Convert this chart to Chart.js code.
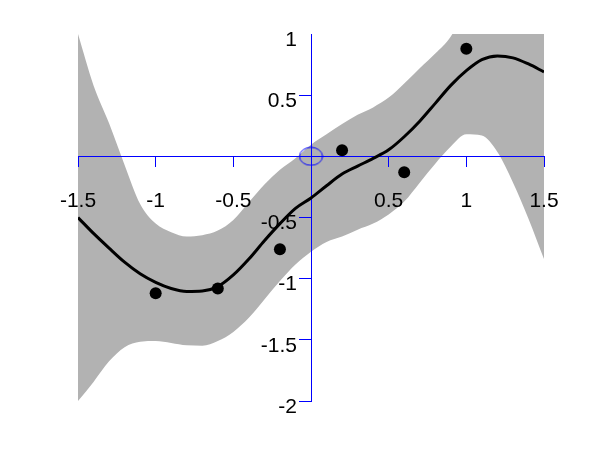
<!DOCTYPE html>
<html><head><meta charset="utf-8">
<script src="https://cdn.jsdelivr.net/npm/chart.js@4"></script>
<style>html,body{margin:0;padding:0;background:#fff}#wrap{width:600px;height:450px}</style>
</head><body><div id="wrap"><canvas id="c" width="600" height="450"></canvas></div>
<script>
const xValues = [-1.5,-1.4,-1.3,-1.2,-1.1,-1.0,-0.9,-0.8,-0.7,-0.6,-0.5,-0.4,-0.3,-0.2,-0.1,0,0.1,0.2,0.3,0.4,0.5,0.6,0.7,0.8,0.9,1.0,1.1,1.2,1.3,1.4,1.5];
const meanValues = [-0.50,-0.63,-0.75,-0.865,-0.96,-1.03,-1.08,-1.104,-1.10,-1.065,-0.97,-0.84,-0.69,-0.55,-0.425,-0.34,-0.24,-0.145,-0.08,-0.017,0.053,0.16,0.287,0.433,0.58,0.70,0.79,0.82,0.805,0.755,0.69];
const upperValues = [1.0,0.58,0.27,-0.07,-0.39,-0.55,-0.62,-0.655,-0.645,-0.607,-0.52,-0.375,-0.23,-0.11,-0.015,0.095,0.18,0.265,0.34,0.40,0.48,0.595,0.72,0.84,0.98,1.22,1.42,1.6,1.8,2.0,2.2];
const lowerValues = [-2.0,-1.844,-1.676,-1.56,-1.515,-1.51,-1.525,-1.545,-1.548,-1.51,-1.435,-1.32,-1.17,-1.02,-0.885,-0.78,-0.70,-0.655,-0.60,-0.55,-0.475,-0.37,-0.215,-0.06,0.08,0.18,0.17,0.035,-0.214,-0.51,-0.84];
const obsX = [-1.0,-0.6,-0.2,0.2,0.6,1.0];
const obsY = [-1.12,-1.08,-0.76,0.05,-0.13,0.88];
const originPoint = [{x:0,y:0}];
const xTickValues = [-1.5,-1,-0.5,0.5,1,1.5];
const yTickValues = [-2,-1.5,-1,-0.5,0.5,1];

function ellipseImage(rx, ry){
  const c = document.createElement('canvas');
  c.width = Math.ceil(rx*2+2); c.height = Math.ceil(ry*2+2);
  const g = c.getContext('2d');
  g.strokeStyle = '#0000ff'; g.lineWidth = 1;
  g.beginPath(); g.ellipse(c.width/2, c.height/2, rx, ry, 0, 0, Math.PI*2); g.stroke();
  return c;
}
const pts = (xs, ys) => xs.map((x,i)=>({x:x, y:ys[i]}));
const tickFont = {family:'Liberation Sans', size:21};
const BLUE = '#0000ff';

// centered y axis puts its labels on the axis line; move them left of the ticks
const yLabelShift = {
  id:'yLabelShift',
  beforeDraw(chart){
    const s = chart.scales.y;
    if (s && !s.__patched){
      const orig = s._computeLabelItems;
      s._computeLabelItems = function(ca){
        const items = orig.call(this, ca);
        items.forEach(it => { it.options.translation[0] -= 14; });
        return items;
      };
      s.__patched = true;
      s._labelItems = null;
    }
  }
};

new Chart(document.getElementById('c'), {
  type:'line',
  data:{datasets:[
    {label:'observations', data:pts(obsX,obsY), showLine:false, pointRadius:6, pointBackgroundColor:'#000', pointBorderWidth:0, borderColor:'#000', backgroundColor:'#000'},
    {label:'mean', data:pts(xValues,meanValues), borderColor:'#000', borderWidth:3, pointRadius:0, fill:false, cubicInterpolationMode:'monotone'},
    {label:'origin', data:originPoint, showLine:false, pointStyle:ellipseImage(11.5,9), pointRadius:10, borderColor:'rgba(0,0,0,0)', backgroundColor:'rgba(0,0,0,0)'},
    {label:'upper', data:pts(xValues,upperValues), borderColor:'rgba(0,0,0,0)', borderWidth:0, pointRadius:0, fill:'+1', backgroundColor:'#b2b2b2', cubicInterpolationMode:'monotone'},
    {label:'lower', data:pts(xValues,lowerValues), borderColor:'rgba(0,0,0,0)', borderWidth:0, pointRadius:0, fill:false, backgroundColor:'#b2b2b2', cubicInterpolationMode:'monotone'}
  ]},
  options:{
    responsive:false, animation:false, devicePixelRatio:1,
    layout:{padding:{left:78,right:56,top:34,bottom:49}},
    plugins:{legend:{display:false}, tooltip:{enabled:false}, filler:{drawTime:'beforeDraw'}},
    scales:{
      x:{type:'linear', position:{y:0}, min:-1.5, max:1.5,
        afterFit:s=>{s.height=0;},
        afterBuildTicks:s=>{s.ticks=xTickValues.map(v=>({value:v}));},
        grid:{drawOnChartArea:false, drawTicks:true, tickLength:10, color:BLUE, lineWidth:1},
        border:{color:BLUE, width:1},
        ticks:{color:'#000', font:tickFont, padding:22, maxRotation:0, autoSkip:false, callback:v=>String(v)}},
      y:{type:'linear', position:{x:0}, min:-2, max:1,
        afterFit:s=>{s.width=0;},
        afterBuildTicks:s=>{s.ticks=yTickValues.map(v=>({value:v}));},
        grid:{drawOnChartArea:false, drawTicks:true, tickLength:12, lineWidth:1,
          color:c => (c.tick && c.tick.value === 1) ? 'rgba(0,0,0,0)' : BLUE},
        border:{color:BLUE, width:1},
        ticks:{color:'#000', font:tickFont, padding:3, labelOffset:6, autoSkip:false, callback:v=>String(v)}}
    }
  },
  plugins:[yLabelShift]
});
</script></body></html>
